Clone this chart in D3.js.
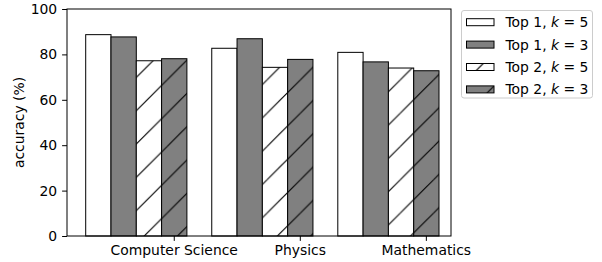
<!DOCTYPE html>
<html>
<head>
<meta charset="utf-8">
<script src="https://cdn.jsdelivr.net/npm/d3@7"></script>
<style>
body { margin: 0; background: #fff; }
text { font-family: "DejaVu Sans", sans-serif; }
</style>
</head>
<body>
<script>
// chart data
var categories = ["Computer Science", "Physics", "Mathematics"];
var seriesNames = ["Top 1, k=5", "Top 1, k=3", "Top 2, k=5", "Top 2, k=3"];
var top1k5 = [88.7, 82.7, 80.9];
var top1k3 = [87.7, 86.9, 76.7];
var top2k5 = [77.2, 74.3, 74.0];
var top2k3 = [78.1, 77.8, 72.8];
var yTicks = [0, 20, 40, 60, 80, 100];

var series = [top1k5, top1k3, top2k5, top2k3];
var fills = ["#ffffff", "#808080", "#ffffff", "#808080"];
var hatched = [false, false, true, true];

var width = 602, height = 262;
var margin = {left: 67, top: 9, right: 151, bottom: 26};
var fontSize = "13.9px";

var svg = d3.select("body").append("svg")
    .attr("width", width)
    .attr("height", height);

// hatch pattern, anchored to the page like matplotlib does (lines x+y = c)
var defs = svg.append("defs");
var tile = 33.3, off = 13.9;
var pat = defs.append("pattern")
    .attr("id", "hatch")
    .attr("patternUnits", "userSpaceOnUse")
    .attr("x", 0).attr("y", 0)
    .attr("width", tile).attr("height", tile);
[off - tile, off, off + tile, off + 2 * tile].forEach(function(c) {
    pat.append("line")
        .attr("x1", c + tile).attr("y1", -tile)
        .attr("x2", c - 2 * tile).attr("y2", 2 * tile)
        .attr("stroke", "#000").attr("stroke-width", 1.1);
});

var x0 = margin.left, x1 = width - margin.right;
var y = d3.scaleLinear().domain([0, 100]).range([height - margin.bottom, margin.top]);

// group positions (ticks land on the last bar, as in the original)
var groupX = d3.scalePoint().domain(categories).range([85.7, 337.8]);
var barW = 25.3;
var barX = d3.scaleBand().domain(d3.range(4)).range([0, barW * 4]).padding(0);

var g = svg.append("g");

function bars(vals, si) {
    return g.selectAll(null)
        .data(vals)
        .enter().append("rect")
        .attr("x", function(d, i) { return groupX(categories[i]) + barX(si); })
        .attr("y", function(d) { return y(d); })
        .attr("width", barX.bandwidth())
        .attr("height", function(d) { return y(0) - y(d); });
}

series.forEach(function(vals, si) {
    bars(vals, si).attr("fill", fills[si]);
    if (hatched[si]) bars(vals, si).attr("fill", "url(#hatch)");
    bars(vals, si).attr("fill", "none").attr("stroke", "#000").attr("stroke-width", 1);
});

// y axis
var yAxis = d3.axisLeft(y).tickValues(yTicks).tickSize(4.9).tickPadding(4.9);
svg.append("g")
    .attr("transform", "translate(" + x0 + ",0)")
    .call(yAxis)
    .call(function(a) {
        a.select(".domain").remove();
        a.selectAll("text").style("font-size", fontSize).attr("fill", "#000").style("font-family", "DejaVu Sans");
        a.selectAll("line").attr("stroke", "#000");
    });

// x axis: ticks at last bar centre
var xTickPos = d3.scaleOrdinal().domain(categories)
    .range(categories.map(function(c) { return groupX(c) + barX(3) + barX.bandwidth() / 2; }));
var xg = svg.append("g").attr("transform", "translate(0," + y(0) + ")");
categories.forEach(function(c) {
    xg.append("line")
        .attr("x1", xTickPos(c)).attr("x2", xTickPos(c))
        .attr("y1", 0).attr("y2", 4.9)
        .attr("stroke", "#000");
    xg.append("text")
        .attr("x", xTickPos(c)).attr("y", 19)
        .attr("text-anchor", "middle")
        .style("font-size", fontSize)
        .text(c);
});

// frame
svg.append("rect")
    .attr("x", x0).attr("y", margin.top)
    .attr("width", x1 - x0).attr("height", y(0) - margin.top)
    .attr("fill", "none").attr("stroke", "#000").attr("stroke-width", 1);

// y label
svg.append("text")
    .attr("transform", "translate(24," + (margin.top + y(0)) / 2 + ") rotate(-90)")
    .attr("text-anchor", "middle")
    .style("font-size", fontSize)
    .text("accuracy (%)");

// legend
var leg = svg.append("g");
leg.append("rect")
    .attr("x", 461.5).attr("y", 10.5)
    .attr("width", 131).attr("height", 87.5)
    .attr("rx", 2.5)
    .attr("fill", "#fff").attr("fill-opacity", 0.8)
    .attr("stroke", "#cccccc");

var rowY = d3.scaleLinear().domain([0, 3]).range([22.2, 89.4]);
seriesNames.forEach(function(name, si) {
    var cy = rowY(si);
    var px = 466.5, pw = 27.5, ph = 7;
    leg.append("rect")
        .attr("x", px).attr("y", cy - ph / 2)
        .attr("width", pw).attr("height", ph)
        .attr("fill", fills[si]);
    if (hatched[si]) {
        leg.append("rect")
            .attr("x", px).attr("y", cy - ph / 2)
            .attr("width", pw).attr("height", ph)
            .attr("fill", "url(#hatch)");
    }
    leg.append("rect")
        .attr("x", px).attr("y", cy - ph / 2)
        .attr("width", pw).attr("height", ph)
        .attr("fill", "none").attr("stroke", "#000");
    var parts = name.split(", k=");
    var t = leg.append("text")
        .attr("x", 505.5).attr("y", cy + 4.9)
        .style("font-size", fontSize);
    t.append("tspan").text(parts[0] + ", ");
    t.append("tspan").style("font-style", "italic").text("k");
    t.append("tspan").text(" = " + parts[1]);
});
</script>
</body>
</html>
